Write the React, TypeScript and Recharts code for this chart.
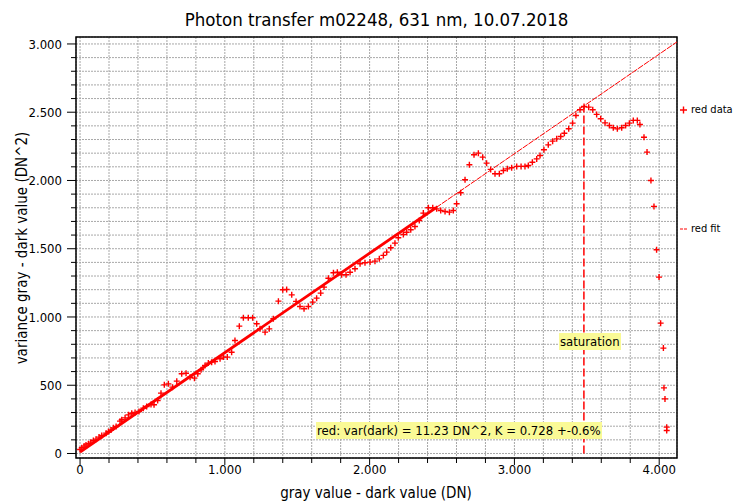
import { ComposedChart, Scatter, Line, XAxis, YAxis, CartesianGrid, ReferenceLine, ReferenceArea, Label } from 'recharts';

const FONT = '"DejaVu Sans Condensed", "DejaVu Sans", sans-serif';

// gray value - dark value (DN)
const grayDN = [
  0, 12, 28, 41, 58, 74, 92, 110, 131, 150, 180, 196, 214, 230, 249, 276, 288, 311, 334, 357,
  380, 407, 437, 460, 490, 511, 536, 559, 582, 610, 638, 668, 702, 732, 760, 790, 813, 836, 863, 886,
  909, 932, 967, 990, 1017, 1047, 1070, 1100, 1128, 1162, 1192, 1220, 1243, 1278, 1307, 1335, 1370, 1400, 1427, 1462,
  1492, 1519, 1547, 1577, 1607, 1634, 1662, 1685, 1715, 1750, 1777, 1807, 1837, 1865, 1899, 1934, 1968, 2003, 2037, 2067,
  2095, 2118, 2146, 2175, 2198, 2233, 2256, 2284, 2313, 2343, 2371, 2406, 2436, 2463, 2491, 2521, 2551, 2578, 2601, 2629,
  2659, 2689, 2721, 2751, 2781, 2808, 2836, 2866, 2896, 2924, 2951, 2981, 3016, 3046, 3073, 3096, 3124, 3154, 3177, 3204,
  3234, 3264, 3292, 3320, 3345, 3375, 3402, 3425, 3453, 3481, 3513, 3541, 3568, 3596, 3626, 3656, 3683, 3711, 3741, 3768,
  3794, 3821, 3849, 3867, 3895, 3916, 3943, 3964, 3982, 3999, 4010, 4029, 4033, 4040, 4052, 4052,
];

// variance gray - dark value (DN^2)
const varianceDN2 = [
  29, 42, 54, 63, 71, 83, 95, 105, 120, 132, 149, 161, 173, 188, 198, 237, 247, 261, 283, 295,
  300, 308, 332, 344, 359, 357, 388, 442, 503, 510, 486, 530, 584, 588, 559, 552, 584, 613, 645, 662,
  669, 674, 694, 706, 706, 742, 828, 933, 994, 994, 994, 950, 913, 889, 913, 987, 1116, 1199, 1201, 1162,
  1114, 1077, 1060, 1077, 1109, 1138, 1175, 1219, 1284, 1324, 1328, 1309, 1309, 1328, 1353, 1390, 1397, 1402, 1409, 1426,
  1451, 1475, 1507, 1541, 1580, 1604, 1621, 1639, 1663, 1707, 1761, 1800, 1800, 1792, 1780, 1773, 1768, 1780, 1829, 1910,
  2005, 2115, 2188, 2200, 2171, 2127, 2081, 2049, 2049, 2073, 2085, 2093, 2103, 2103, 2103, 2110, 2134, 2158, 2183, 2225,
  2261, 2288, 2305, 2322, 2346, 2379, 2420, 2476, 2518, 2542, 2537, 2518, 2484, 2452, 2422, 2403, 2386, 2378, 2386, 2403,
  2420, 2440, 2440, 2410, 2317, 2208, 2000, 1810, 1492, 1292, 955, 772, 481, 400, 193, 168,
];

// fit line: fitted range (thick) and extension (thin dashed)
const fitGray = [0, 2460];
const fitVar = [11, 1802];
const extGray = [2460, 4123];
const extVar = [1802, 3015];

const saturationGray = 3480;
const saturationVar = 2542;

const xTicks = [0, 200, 400, 600, 800, 1000, 1200, 1400, 1600, 1800, 2000, 2200, 2400, 2600, 2800, 3000, 3200, 3400, 3600, 3800, 4000];
const yTicks = [
  0, 100, 200, 300, 400, 500, 600, 700, 800, 900, 1000, 1100, 1200, 1300, 1400, 1500, 1600, 1700, 1800, 1900,
  2000, 2100, 2200, 2300, 2400, 2500, 2600, 2700, 2800, 2900, 3000,
];

const X_DOMAIN = [-28, 4123];
const Y_DOMAIN = [-33, 3051];

const points = grayDN.map((g, i) => ({ g, v: varianceDN2[i] }));
const fitMain = fitGray.map((g, i) => ({ g, v: fitVar[i] }));
const fitExt = extGray.map((g, i) => ({ g, v: extVar[i] }));

const fmt = (n: number) => (n >= 1000 ? `${Math.floor(n / 1000)}.${String(n % 1000).padStart(3, '0')}` : String(n));

const YTick = ({ x, y, payload }: any) => {
  const major = payload.value % 500 === 0;
  return (
    <g>
      <line x1={x - (major ? 9 : 5)} x2={x} y1={y} y2={y} stroke="#000" />
      {major && (
        <text x={x - 14} y={y} dy="0.36em" textAnchor="end" fontSize={13} fill="#000" fontFamily={FONT}>
          {fmt(payload.value)}
        </text>
      )}
    </g>
  );
};

const XTick = ({ x, y, payload }: any) => {
  const major = payload.value % 1000 === 0;
  return (
    <g>
      <line x1={x} x2={x} y1={y} y2={y + (major ? 7 : 5)} stroke="#000" />
      {major && (
        <text x={x} y={y + 4} dy="0.9em" textAnchor="middle" fontSize={13} fill="#000" fontFamily={FONT}>
          {fmt(payload.value)}
        </text>
      )}
    </g>
  );
};

const Cross = ({ cx, cy }: any) => (
  <path d={`M${cx - 3},${cy}H${cx + 3}M${cx},${cy - 3}V${cy + 3}`} stroke="#ff0000" strokeWidth={1.4} fill="none" />
);

const boxStyle: React.CSSProperties = {
  position: 'absolute',
  height: 17,
  lineHeight: '17px',
  background: '#fafa96',
  fontSize: 13,
  padding: '0 1px',
  whiteSpace: 'nowrap',
  color: '#000',
};

export default function App() {
  return (
    <div style={{ position: 'absolute', left: 0, top: 0, width: 733, height: 504, background: '#fff', fontFamily: FONT }}>
      <ComposedChart width={733} height={504} margin={{ top: 37, right: 56, bottom: 0, left: 0 }}>
        <CartesianGrid stroke="#a8a8a8" strokeDasharray="2 1" />
        <XAxis
          type="number"
          dataKey="g"
          domain={X_DOMAIN}
          ticks={xTicks}
          interval={0}
          allowDataOverflow
          height={46}
          axisLine={false}
          tickLine={false}
          tickSize={0}
          tickMargin={0}
          tick={<XTick />}
        >
          <Label
            content={() => (
              <text x={376} y={498} textAnchor="middle" fontSize={15} fill="#000" fontFamily={FONT}>
                gray value - dark value (DN)
              </text>
            )}
          />
        </XAxis>
        <YAxis
          type="number"
          dataKey="v"
          domain={Y_DOMAIN}
          ticks={yTicks}
          interval={0}
          allowDataOverflow
          width={76}
          axisLine={false}
          tickLine={false}
          tickSize={0}
          tickMargin={0}
          tick={<YTick />}
        >
          <Label
            content={() => (
              <text
                x={22}
                y={248}
                transform="rotate(-90 22 248)"
                textAnchor="middle"
                dy="0.36em"
                fontSize={15}
                fill="#000"
                fontFamily={FONT}
              >
                variance gray - dark value (DN^2)
              </text>
            )}
          />
        </YAxis>
        <ReferenceArea x1={X_DOMAIN[0]} x2={X_DOMAIN[1]} y1={Y_DOMAIN[0]} y2={Y_DOMAIN[1]} fill="none" fillOpacity={0} stroke="#000" strokeWidth={1.5} />
        <ReferenceLine
          segment={[
            { x: saturationGray, y: 0 },
            { x: saturationGray, y: saturationVar },
          ]}
          stroke="#ff0000"
          strokeWidth={1.5}
          strokeDasharray="8 3"
        />
        <Line data={fitExt} dataKey="v" stroke="#ff0000" strokeWidth={1} strokeDasharray="6 1" dot={false} isAnimationActive={false} />
        <Line data={fitMain} dataKey="v" stroke="#ff0000" strokeWidth={2.8} dot={false} isAnimationActive={false} />
        <Scatter data={points} dataKey="v" shape={<Cross />} isAnimationActive={false} />
      </ComposedChart>

      {/* title */}
      <div style={{ position: 'absolute', left: 76, width: 601, top: 9, lineHeight: '22px', textAlign: 'center', fontSize: 18.5, color: '#000' }}>
        Photon transfer m02248, 631 nm, 10.07.2018
      </div>

      {/* legend */}
      <svg style={{ position: 'absolute', left: 679, top: 100 }} width={12} height={140}>
        <path d="M1,10H8M4.5,6.5V13.5" stroke="#ff0000" strokeWidth={1.4} />
        <line x1={1} x2={9} y1={129} y2={129} stroke="#ff0000" strokeDasharray="3 1" />
      </svg>
      <div style={{ position: 'absolute', left: 691, top: 102, lineHeight: '16px', fontSize: 11, color: '#000', whiteSpace: 'nowrap' }}>red data</div>
      <div style={{ position: 'absolute', left: 691, top: 221, lineHeight: '16px', fontSize: 11, color: '#000', whiteSpace: 'nowrap' }}>red fit</div>

      {/* annotations */}
      <div style={{ ...boxStyle, left: 559, top: 333 }}>saturation</div>
      <div style={{ ...boxStyle, left: 316, top: 422 }}>red: var(dark) = 11.23 DN^2, K = 0.728 +-0.6%</div>
    </div>
  );
}
